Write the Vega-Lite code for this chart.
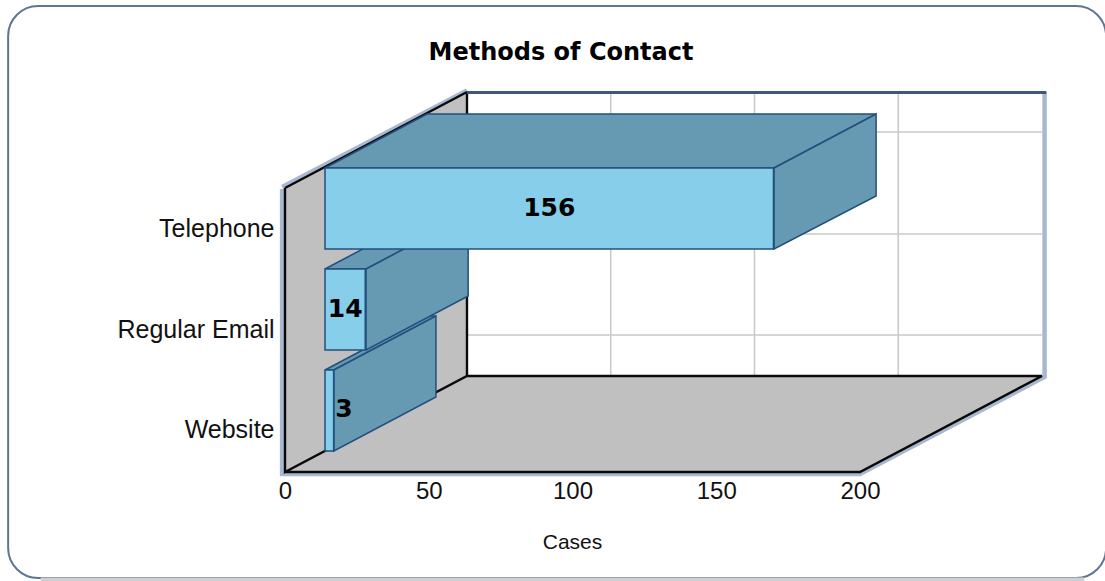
{"$schema":"https://vega.github.io/schema/vega-lite/v6.json","autosize":"none","width":760,"height":380,"padding":{"left":285,"top":92,"right":60,"bottom":109},"background":"#ffffff","config":{"view":{"stroke":null},"axis":{"grid":false}},"title":{"text":"Methods of Contact","font":"DejaVu Sans","fontWeight":"bold","fontSize":24,"color":"#000000","anchor":"middle","frame":"group","dx":-104,"offset":-60},"resolve":{"scale":{"x":"independent","y":"independent"}},"layer":[{"data":{"values":[{"a":-96.3,"b":285.6,"c":-106,"d":466}]},"mark":{"type":"rect","fill":"#ffffff","stroke":"#5f7594","strokeWidth":2,"cornerRadius":30},"encoding":{"x":{"field":"a","type":"quantitative","axis":null,"scale":{"domain":[0,264.35],"nice":false,"zero":false}},"x2":{"field":"b"},"y":{"field":"c","type":"quantitative","axis":null,"scale":{"domain":[0,380],"nice":false,"zero":false}},"y2":{"field":"d"}}},{"data":{"values":[{"a":-85,"b":278,"c":-107.5}]},"mark":{"type":"rule","stroke":"#cfcfcf","strokeWidth":4},"encoding":{"x":{"field":"a","type":"quantitative","axis":null,"scale":{"domain":[0,264.35],"nice":false,"zero":false}},"x2":{"field":"b"},"y":{"field":"c","type":"quantitative","axis":null,"scale":{"domain":[0,380],"nice":false,"zero":false}}}},{"data":{"values":[{"x":0,"top":284,"bot":0,"f":"left"},{"x":63.3,"top":380,"bot":96,"f":"left"}]},"mark":{"type":"area","orient":"vertical","fill":"#c0c0c0"},"encoding":{"x":{"field":"x","type":"quantitative","scale":{"domain":[0,264.35],"nice":false,"zero":false},"axis":{"values":[0,50,100,150,200],"zindex":1,"grid":false,"domain":false,"ticks":false,"title":"Cases","labelFont":"Liberation Sans","labelFontSize":24,"labelColor":"#111111","labelPadding":7,"labelFlush":false,"titleFont":"Liberation Sans","titleFontSize":21,"titleFontWeight":"normal","titleColor":"#111111","titleX":287,"titleY":76,"titleAnchor":"middle","titleBaseline":"alphabetic"}},"y":{"field":"top","type":"quantitative","axis":null,"stack":null,"scale":{"domain":[0,380],"nice":false,"zero":false}},"y2":{"field":"bot"},"detail":{"field":"f"}}},{"data":{"values":[{"y":0,"l":0,"r":200},{"y":96,"l":63.3,"r":263.3}]},"mark":{"type":"area","orient":"horizontal","fill":"#c0c0c0"},"encoding":{"y":{"field":"y","type":"quantitative","axis":null,"scale":{"domain":[0,380],"nice":false,"zero":false}},"x":{"field":"l","type":"quantitative","axis":null,"stack":null,"scale":{"domain":[0,264.35],"nice":false,"zero":false}},"x2":{"field":"r"}}},{"data":{"values":[{"v":113.3,"a":96,"b":380},{"v":163.3,"a":96,"b":380},{"v":213.3,"a":96,"b":380}]},"mark":{"type":"rule","stroke":"#c8c8c8","strokeWidth":1.5},"encoding":{"x":{"field":"v","type":"quantitative","axis":null,"scale":{"domain":[0,264.35],"nice":false,"zero":false}},"y":{"field":"a","type":"quantitative","axis":null,"scale":{"domain":[0,380],"nice":false,"zero":false}},"y2":{"field":"b"}}},{"data":{"values":[{"v":137,"a":63.3,"b":263.3},{"v":238,"a":63.3,"b":263.3},{"v":340,"a":63.3,"b":263.3}]},"mark":{"type":"rule","stroke":"#c8c8c8","strokeWidth":1.5},"encoding":{"y":{"field":"v","type":"quantitative","axis":null,"scale":{"domain":[0,380],"nice":false,"zero":false}},"x":{"field":"a","type":"quantitative","axis":null,"scale":{"domain":[0,264.35],"nice":false,"zero":false}},"x2":{"field":"b"}}},{"data":{"values":[{"e":"m","x":-1,"y":283,"o":0},{"e":"m","x":-1,"y":-2,"o":1},{"e":"m","x":200,"y":-2,"o":2},{"e":"m","x":264.2,"y":95,"o":3},{"e":"m","x":264.2,"y":380,"o":4},{"e":"n","x":-1,"y":285,"o":0},{"e":"n","x":63.3,"y":381.5,"o":1}]},"mark":{"type":"line","stroke":"#a8b8d0","strokeWidth":4.5,"strokeJoin":"miter"},"encoding":{"x":{"field":"x","type":"quantitative","axis":null,"scale":{"domain":[0,264.35],"nice":false,"zero":false}},"y":{"field":"y","type":"quantitative","axis":null,"scale":{"domain":[0,380],"nice":false,"zero":false}},"order":{"field":"o"},"detail":{"field":"e"}}},{"data":{"values":[{"e":"a","x":0,"y":0,"o":0},{"e":"a","x":200,"y":0,"o":1},{"e":"a","x":263.3,"y":96,"o":2},{"e":"a","x":63.3,"y":96,"o":3},{"e":"a","x":0,"y":0,"o":4},{"e":"a","x":0,"y":284,"o":5},{"e":"b","x":63.3,"y":96,"o":0},{"e":"b","x":63.3,"y":380,"o":1},{"e":"c","x":0,"y":284,"o":0},{"e":"c","x":63.3,"y":380,"o":1}]},"mark":{"type":"line","stroke":"#0a0a0a","strokeWidth":2.4},"encoding":{"x":{"field":"x","type":"quantitative","axis":null,"scale":{"domain":[0,264.35],"nice":false,"zero":false}},"y":{"field":"y","type":"quantitative","axis":null,"scale":{"domain":[0,380],"nice":false,"zero":false}},"order":{"field":"o"},"detail":{"field":"e"}}},{"data":{"values":[{"x":63.3,"y":379.5},{"x":264.8,"y":379.5}]},"mark":{"type":"line","stroke":"#3f5878","strokeWidth":3},"encoding":{"x":{"field":"x","type":"quantitative","axis":null,"scale":{"domain":[0,264.35],"nice":false,"zero":false}},"y":{"field":"y","type":"quantitative","axis":null,"scale":{"domain":[0,380],"nice":false,"zero":false}}}},{"data":{"values":[{"f":"Website","y":102,"l":13.9,"r":17},{"f":"Website","y":156,"l":49.4,"r":52.5},{"f":"Regular Email","y":203,"l":13.9,"r":28.2},{"f":"Regular Email","y":257,"l":49.4,"r":63.7},{"f":"Telephone","y":304,"l":13.9,"r":170.1},{"f":"Telephone","y":358,"l":49.4,"r":205.6}]},"mark":{"type":"area","orient":"horizontal","fill":"#6699b2","stroke":"#234f7d","strokeWidth":1.5},"encoding":{"y":{"field":"y","type":"quantitative","axis":null,"scale":{"domain":[0,380],"nice":false,"zero":false}},"x":{"field":"l","type":"quantitative","axis":null,"stack":null,"scale":{"domain":[0,264.35],"nice":false,"zero":false}},"x2":{"field":"r"},"detail":{"field":"f"}}},{"data":{"values":[{"f":"Website","x":17,"t":102,"b":21},{"f":"Website","x":52.5,"t":156,"b":75},{"f":"Regular Email","x":28.2,"t":203,"b":122},{"f":"Regular Email","x":63.7,"t":257,"b":176},{"f":"Telephone","x":170.1,"t":304,"b":223},{"f":"Telephone","x":205.6,"t":358,"b":276}]},"mark":{"type":"area","orient":"vertical","fill":"#6699b2","stroke":"#234f7d","strokeWidth":1.5},"encoding":{"x":{"field":"x","type":"quantitative","axis":null,"scale":{"domain":[0,264.35],"nice":false,"zero":false}},"y":{"field":"t","type":"quantitative","axis":null,"stack":null,"scale":{"domain":[0,380],"nice":false,"zero":false}},"y2":{"field":"b"},"detail":{"field":"f"}}},{"data":{"values":[{"method":"Telephone","cases":156},{"method":"Regular Email","cases":14},{"method":"Website","cases":3}]},"mark":{"type":"bar","fill":"#87ceeb","stroke":"#234f7d","strokeWidth":1.5},"encoding":{"x":{"field":"cases","type":"quantitative","axis":null,"scale":{"domain":[0,200],"range":[40,615],"nice":false}},"y":{"field":"method","type":"nominal","sort":null,"title":null,"scale":{"domain":["Telephone","Regular Email","Website"],"range":[76,359],"paddingInner":0.198,"paddingOuter":0},"axis":{"zindex":1,"domain":false,"ticks":false,"grid":false,"labelFont":"Liberation Sans","labelFontSize":25,"labelColor":"#111111","labelPadding":11,"labelOffset":20}}}},{"data":{"values":[{"method":"Telephone","cases":156,"labelAt":78},{"method":"Regular Email","cases":14,"labelAt":7},{"method":"Website","cases":3,"labelAt":6.6}]},"mark":{"type":"text","font":"DejaVu Sans","fontWeight":"bold","fontSize":25,"color":"#000000","baseline":"middle","dy":-1},"encoding":{"x":{"field":"labelAt","type":"quantitative","axis":null,"scale":{"domain":[0,200],"range":[40,615],"nice":false}},"y":{"field":"method","type":"nominal","sort":null,"axis":null,"scale":{"type":"band","domain":["Telephone","Regular Email","Website"],"range":[76,359],"paddingInner":0.198,"paddingOuter":0}},"text":{"field":"cases","type":"quantitative"}}}]}
